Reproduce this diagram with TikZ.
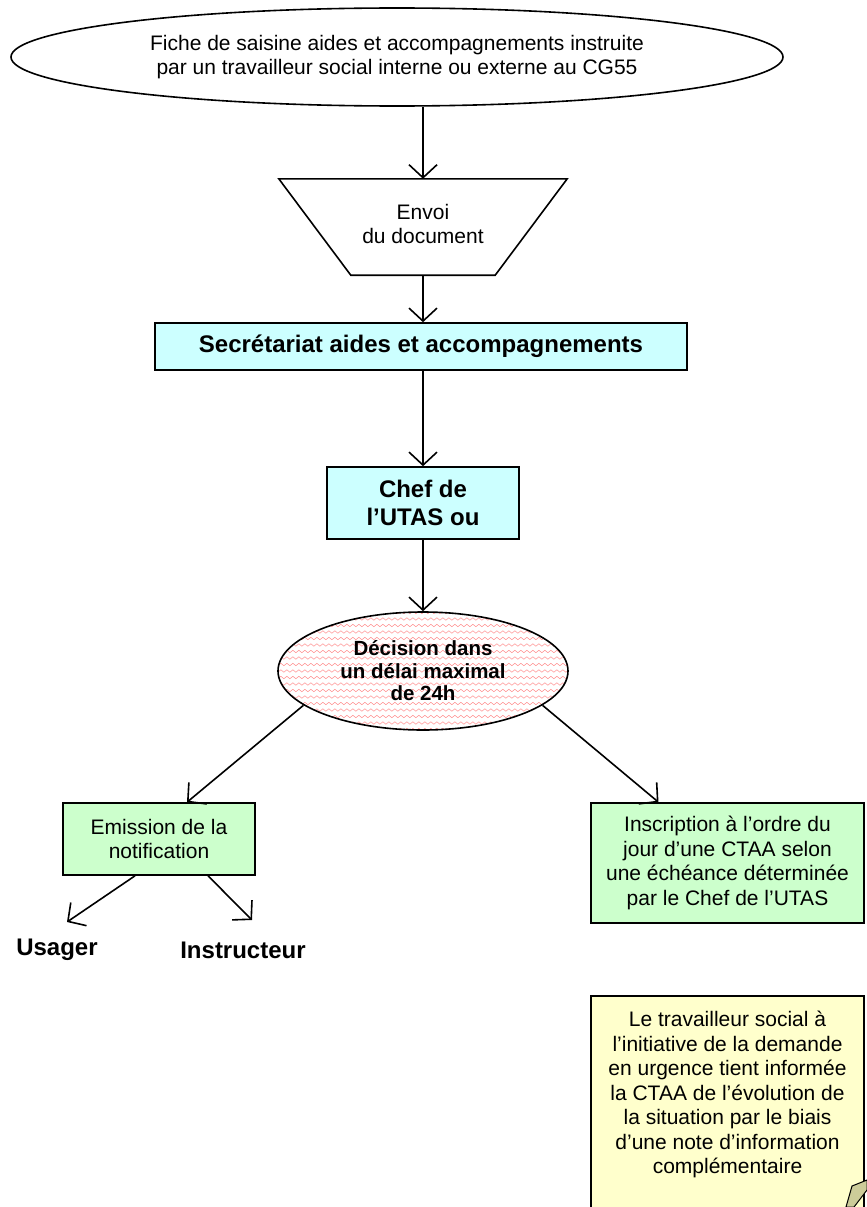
\documentclass[tikz,border=0pt]{standalone}
\usepackage{fontspec}
\setmainfont{Liberation Sans}
\usetikzlibrary{shapes.geometric,arrows.meta,decorations.pathmorphing}
\definecolor{cyanbox}{RGB}{204,255,255}
\definecolor{greenbox}{RGB}{204,255,204}
\definecolor{yellowbox}{RGB}{255,255,204}
\definecolor{foldcol}{RGB}{204,204,153}
\tikzset{
  outline/.style={line width=1.6pt},
  flow/.style={line width=1.6pt,-{Straight Barb[length=13pt,width=28pt,line width=1.6pt]}},
  bodytxt/.style={font=\fontsize{21}{24.5}\selectfont,align=center},
  headtxt/.style={font=\fontsize{24}{28}\selectfont\bfseries,align=center},
  wavy/.style={red!40,line width=0.6pt,decorate,decoration={snake,amplitude=1.2pt,segment length=6pt}},
}
\begin{document}
\begin{tikzpicture}[x=1pt,y=1pt,yscale=-1,xscale=1]
\useasboundingbox (0,0) rectangle (867,1207);

%Shape: Ellipse [top]
\node[ellipse,draw,outline,bodytxt,minimum width=772pt,minimum height=98pt,inner sep=0pt] (fiche) at (397,57)
  {Fiche de saisine aides et accompagnements instruite\\par un travailleur social interne ou externe au CG55};

%Shape: Trapezoid [envoi]
\node[bodytxt,minimum width=288pt,minimum height=96pt,inner sep=0pt] (envoi) at (423,224) {Envoi\\du document};
\draw[outline] ([yshift=3pt]envoi.north west) -- ([yshift=3pt]envoi.north east) -- ([xshift=-72pt,yshift=3pt]envoi.south east) -- ([xshift=72pt,yshift=3pt]envoi.south west) -- cycle;

%Shape: Rectangle [secretariat]
\node[draw,outline,fill=cyanbox,headtxt,minimum width=532pt,minimum height=47pt,inner sep=0pt] (secr) at (421,346.5)
  {Secrétariat aides et accompagnements};

%Shape: Rectangle [chef]
\node[draw,outline,fill=cyanbox,headtxt,minimum width=192pt,minimum height=72pt,inner sep=0pt] (chef) at (423,503)
  {Chef de\\l’UTAS ou};

%Shape: Ellipse [decision]
\node[ellipse,draw,outline,fill=white,inner sep=0pt,minimum width=290pt,minimum height=118pt,
  font=\fontsize{20.5}{22.5}\selectfont\bfseries,align=center,
  path picture={\foreach \k in {-9,...,9}{
    \draw[wavy] ([xshift=-150pt,yshift=\k*6.5pt]path picture bounding box.center) -- ([xshift=150pt,yshift=\k*6.5pt]path picture bounding box.center);}}] (deci) at (423,671)
  {Décision dans\\un délai maximal\\de 24h};

%Shape: Rectangle [emission]
\node[draw,outline,fill=greenbox,bodytxt,minimum width=192pt,minimum height=72pt,inner sep=0pt] (emis) at (159,839)
  {Emission de la\\notification};

%Shape: Rectangle [inscription]
\node[draw,outline,fill=greenbox,bodytxt,minimum width=273pt,minimum height=120pt,inner sep=0pt] (insc) at (727.5,863)
  {Inscription à l’ordre du\\jour d’une CTAA selon\\une échéance déterminée\\par le Chef de l’UTAS};

%Shape: Note [travailleur]
\node[draw,outline,fill=yellowbox,minimum width=273pt,minimum height=225pt,anchor=north] (note) at (727.5,995) {};
\node[bodytxt,anchor=north,inner sep=0pt] (notetxt) at ([yshift=16pt]note.north)
  {Le travailleur social à\\l’initiative de la demande\\en urgence tient informée\\la CTAA de l’évolution de\\la situation par le biais\\d’une note d’information\\complémentaire};
\filldraw[fill=foldcol,line width=1pt] (846,1207) -- (852,1186) -- (867,1180) -- (867,1190) -- (854,1207) -- cycle;

% Text Node
\node[headtxt,inner sep=0pt] (usag) at (57,950) {Usager};
% Text Node
\node[headtxt,inner sep=0pt] (instr) at (243,950) {Instructeur};
\coordinate (tousag) at (67,922);
\coordinate (toinstr) at (252,920);

%Straight Lines
\draw[flow] (fiche.south -| envoi.north) -- ([yshift=3pt]envoi.north);
\draw[flow] ([yshift=3pt]envoi.south) -- (secr.north -| envoi.south);
\draw[flow] (secr.south -| chef.north) -- (chef.north);
\draw[flow] (chef.south) -- (deci.north);
\draw[flow] (deci.196) -- ([xshift=28pt]emis.north);
\draw[flow] (deci.-16) -- ([xshift=-69pt]insc.north);
\draw[flow] ([xshift=-24pt]emis.south) -- (tousag);
\draw[flow] ([xshift=49pt]emis.south) -- (toinstr);

\end{tikzpicture}
\end{document}
